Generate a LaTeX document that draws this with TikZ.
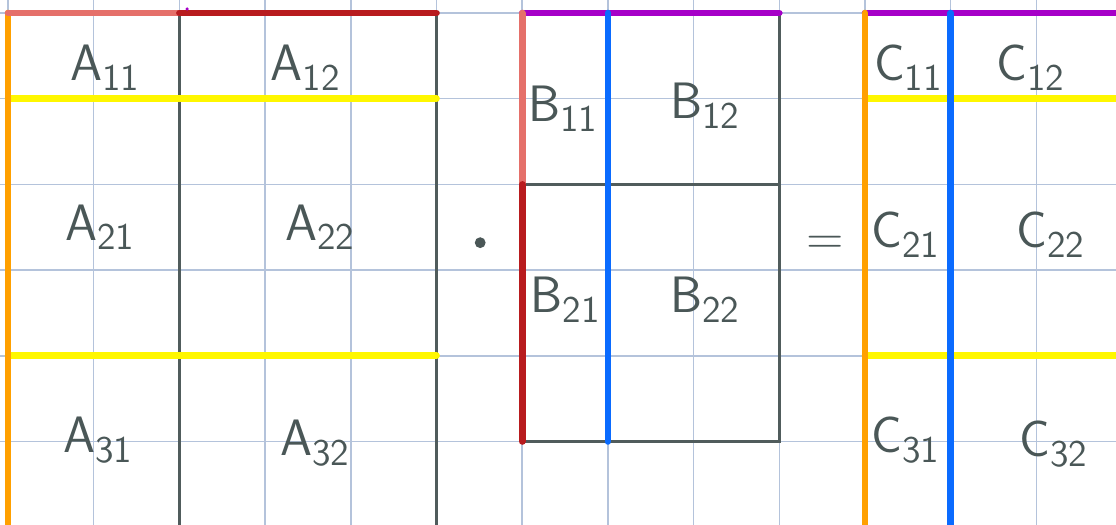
\documentclass[tikz,border=0pt]{standalone}
\usepackage{fontspec}
\definecolor{gridblue}{HTML}{B4C3DB}
\definecolor{slate}{HTML}{505C5C}
\definecolor{ink}{HTML}{4A5757}
\definecolor{tangerine}{HTML}{FFA000}
\definecolor{salmon}{HTML}{E5706A}
\definecolor{crimson}{HTML}{B81B1E}
\definecolor{lemon}{HTML}{FFF700}
\definecolor{violet}{HTML}{A600C8}
\definecolor{azure}{HTML}{0A6BFF}
\newcommand{\mcell}[2]{#1\raisebox{-0.45ex}{\fontsize{12.5}{13}\selectfont #2}}
\begin{document}
\begin{tikzpicture}[
  paper/.style={draw=gridblue, line width=0.5pt},
  frame/.style={draw=slate, line width=1pt},
  stroke/.style={line width=2.2pt, line cap=round},
  entry/.style={text=ink, inner sep=0pt, font=\sffamily\fontsize{17}{20}\selectfont}
]
\useasboundingbox (-0.0934,0.1517) rectangle (12.929,-5.974);
\clip (-0.0934,0.1517) rectangle (12.929,-5.974);
\fill[white] (-0.0934,0.1517) rectangle (12.929,-5.974);

% squared paper
\foreach \i in {0,...,12} \draw[paper] (\i,0.2) -- (\i,-6.1);
\foreach \j in {0,...,5} \draw[paper] (-0.2,-\j) -- (13.1,-\j);

% matrix A
\draw[frame] (2,0) -- (2,-6.2);
\draw[frame] (5,0) -- (5,-6.2);
\draw[stroke, lemon] (0,-1) -- (5,-1);
\draw[stroke, lemon] (0,-4) -- (5,-4);
\draw[stroke, tangerine] (0,0) -- (0,-6.2);
\draw[stroke, salmon] (0,0) -- (2,0);
\draw[stroke, crimson] (2,0) -- (5,0);
\fill[violet] (2.09,0.047) circle (0.6pt);

\node[entry] (a11) at (1.13,-0.64) {\mcell{A}{11}};
\node[entry] (a12) at (3.47,-0.64) {\mcell{A}{12}};
\node[entry] (a21) at (1.07,-2.50) {\mcell{A}{21}};
\node[entry] (a22) at (3.64,-2.50) {\mcell{A}{22}};
\node[entry] (a31) at (1.05,-4.98) {\mcell{A}{31}};
\node[entry] (a32) at (3.58,-5.02) {\mcell{A}{32}};

\node[circle, fill=ink, inner sep=0pt, minimum size=3.6pt] (dot) at (5.51,-2.68) {};

% matrix B
\draw[frame] (6,-2) -- (9,-2);
\draw[frame] (6,-5) -- (9,-5) -- (9,0);
\draw[stroke, violet] (6,0) -- (9,0);
\draw[stroke, salmon] (6,0) -- (6,-2);
\draw[stroke, crimson] (6,-2) -- (6,-5);
\draw[stroke, azure] (7,0) -- (7,-5);

\node[entry] (b11) at (6.47,-1.12) {\mcell{B}{11}};
\node[entry] (b12) at (8.13,-1.08) {\mcell{B}{12}};
\node[entry] (b21) at (6.50,-3.35) {\mcell{B}{21}};
\node[entry] (b22) at (8.13,-3.35) {\mcell{B}{22}};

\node[entry] (eq) at (9.53,-2.71) {=};

% matrix C
\draw[stroke, violet] (10,0) -- (13.2,0);
\draw[stroke, lemon] (10,-1) -- (13.2,-1);
\draw[stroke, lemon] (10,-4) -- (13.2,-4);
\draw[stroke, tangerine] (10,0) -- (10,-6.2);
\draw[stroke, azure] (11,0) -- (11,-6.2);

\node[entry] (c11) at (10.50,-0.64) {\mcell{C}{11}};
\node[entry] (c12) at (11.93,-0.64) {\mcell{C}{12}};
\node[entry] (c21) at (10.47,-2.59) {\mcell{C}{21}};
\node[entry] (c22) at (12.16,-2.59) {\mcell{C}{22}};
\node[entry] (c31) at (10.47,-4.98) {\mcell{C}{31}};
\node[entry] (c32) at (12.20,-5.03) {\mcell{C}{32}};
\end{tikzpicture}
\end{document}
